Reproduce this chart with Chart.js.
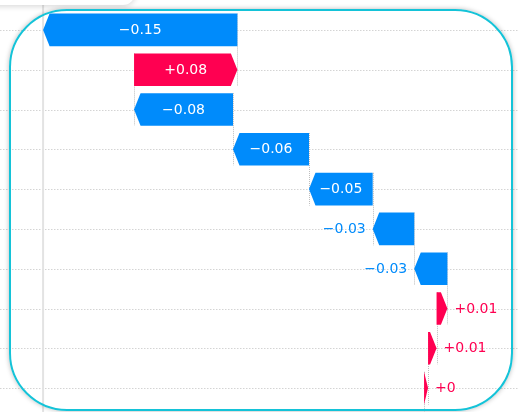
<!DOCTYPE html>
<html>
<head>
<meta charset="utf-8">
<script src="https://cdn.jsdelivr.net/npm/chart.js@4.4.1/dist/chart.umd.min.js"></script>
<style>
  html, body { margin: 0; padding: 0; background: #ffffff; }
  #wrap { position: relative; width: 519px; height: 412px; overflow: hidden; }
  #chart { position: absolute; left: 0; top: 0; }
  .tab {
    position: absolute; left: -20px; top: -30px; width: 155px; height: 35px;
    border-radius: 12px; background: #ffffff;
    box-shadow: 0 1px 6px rgba(0, 0, 0, 0.18);
  }
  .frame {
    position: absolute; left: 9px; top: 9px; width: 504px; height: 402px;
    box-sizing: border-box; border: 2px solid #14c3d8; border-radius: 58px;
    box-shadow: 0 0 5px rgba(0, 0, 0, 0.28);
    pointer-events: none;
  }
</style>
</head>
<body>
<div id="wrap">
  <canvas id="chart" width="519" height="412"></canvas>
  <div class="tab"></div>
  <div class="frame"></div>
</div>
<script>
// Feature rows, listed top to bottom
const features = ['Feature 1', 'Feature 2', 'Feature 3', 'Feature 4', 'Feature 5',
                  'Feature 6', 'Feature 7', 'Feature 8', 'Feature 9', 'Feature 10'];
// SHAP contribution of each feature (same order)
const shapValues = [-0.1506, 0.0801, -0.0767, -0.0589, -0.0494,
                    -0.0322, -0.0257, 0.0084, 0.0066, 0.0031];
// Expected model output the waterfall starts from
const baseValue = 0;
// Visible window of the model-output axis
const xMin = -0.3287;
const xMax = 0.0736;

const POS = '#ff0051';
const NEG = '#008bfb';

// Build the floating [start, end] ranges, accumulating from the bottom row up
const ranges = new Array(shapValues.length);
let running = baseValue;
for (let i = shapValues.length - 1; i >= 0; i--) {
  ranges[i] = [running, running + shapValues[i]];
  running += shapValues[i];
}
const finalValue = running;

function fmt(v) {
  const s = Math.abs(v).toFixed(2).replace(/\.?0+$/, '');
  return (v < 0 ? '\u2212' : '+') + s;
}

function drawArrow(ctx, x0, x1, yc, h, head) {
  const dir = x1 >= x0 ? 1 : -1;
  const len = Math.abs(x1 - x0);
  const hl = Math.min(head, len);
  const xb = x1 - dir * hl;
  ctx.beginPath();
  ctx.moveTo(x0, yc - h / 2);
  ctx.lineTo(xb, yc - h / 2);
  ctx.lineTo(x1, yc);
  ctx.lineTo(xb, yc + h / 2);
  ctx.lineTo(x0, yc + h / 2);
  ctx.closePath();
  ctx.fill();
}

const waterfall = {
  id: 'waterfall',
  beforeDatasetsDraw(chart) {
    const ctx = chart.ctx;
    const xs = chart.scales.x;
    const meta = chart.getDatasetMeta(0);
    ctx.save();
    // dotted row guides
    ctx.strokeStyle = '#d4d4d4';
    ctx.lineWidth = 1;
    ctx.setLineDash([1.5, 1.5]);
    meta.data.forEach(el => {
      const y = Math.round(el.y) + 0.5;
      ctx.beginPath();
      ctx.moveTo(0, y);
      ctx.lineTo(chart.width, y);
      ctx.stroke();
    });
    // final output marker
    ctx.setLineDash([]);
    ctx.strokeStyle = '#e3e3e3';
    ctx.lineWidth = 2;
    const fx = xs.getPixelForValue(finalValue);
    ctx.beginPath();
    ctx.moveTo(fx, 0);
    ctx.lineTo(fx, chart.height);
    ctx.stroke();
    // connectors between consecutive bars
    ctx.strokeStyle = '#bdbdbd';
    ctx.lineWidth = 1;
    ctx.setLineDash([1, 1]);
    for (let i = 0; i < meta.data.length; i++) {
      const up = meta.data[i];
      const h = up.height;
      const x = Math.round(xs.getPixelForValue(ranges[i][0])) + 0.5;
      const yTop = up.y - h / 2;
      const yBot = i + 1 < meta.data.length ? meta.data[i + 1].y + h / 2 : chart.height;
      ctx.beginPath();
      ctx.moveTo(x, yTop);
      ctx.lineTo(x, yBot);
      ctx.stroke();
    }
    ctx.restore();
  },
  afterDatasetsDraw(chart) {
    const ctx = chart.ctx;
    const xs = chart.scales.x;
    const meta = chart.getDatasetMeta(0);
    ctx.save();
    ctx.font = '14px "DejaVu Sans"';
    ctx.textBaseline = 'middle';
    meta.data.forEach((el, i) => {
      const v = shapValues[i];
      const x0 = xs.getPixelForValue(ranges[i][0]);
      const x1 = xs.getPixelForValue(ranges[i][1]);
      const color = v >= 0 ? POS : NEG;
      ctx.fillStyle = color;
      drawArrow(ctx, x0, x1, el.y, el.height, 6.5);
      const txt = fmt(v);
      const tw = ctx.measureText(txt).width;
      const len = Math.abs(x1 - x0);
      if (tw + 10 < len) {
        ctx.fillStyle = '#ffffff';
        ctx.textAlign = 'center';
        ctx.fillText(txt, (x0 + x1) / 2, el.y + 0.5);
      } else {
        ctx.fillStyle = color;
        if (v < 0) {
          ctx.textAlign = 'right';
          ctx.fillText(txt, x1 - 7, el.y + 0.5);
        } else {
          ctx.textAlign = 'left';
          ctx.fillText(txt, x1 + 7, el.y + 0.5);
        }
      }
    });
    ctx.restore();
  }
};

new Chart(document.getElementById('chart'), {
  type: 'bar',
  data: {
    labels: features,
    datasets: [{
      data: ranges,
      backgroundColor: 'rgba(0,0,0,0)',
      borderWidth: 0,
      barPercentage: 0.82,
      categoryPercentage: 1.0
    }]
  },
  options: {
    indexAxis: 'y',
    responsive: false,
    animation: false,
    devicePixelRatio: 1,
    layout: { padding: { top: 10, bottom: 4, left: 0, right: 0 } },
    plugins: { legend: { display: false }, tooltip: { enabled: false } },
    scales: {
      x: { type: 'linear', min: xMin, max: xMax, display: false },
      y: { type: 'category', display: false }
    }
  },
  plugins: [waterfall]
});
</script>
</body>
</html>
